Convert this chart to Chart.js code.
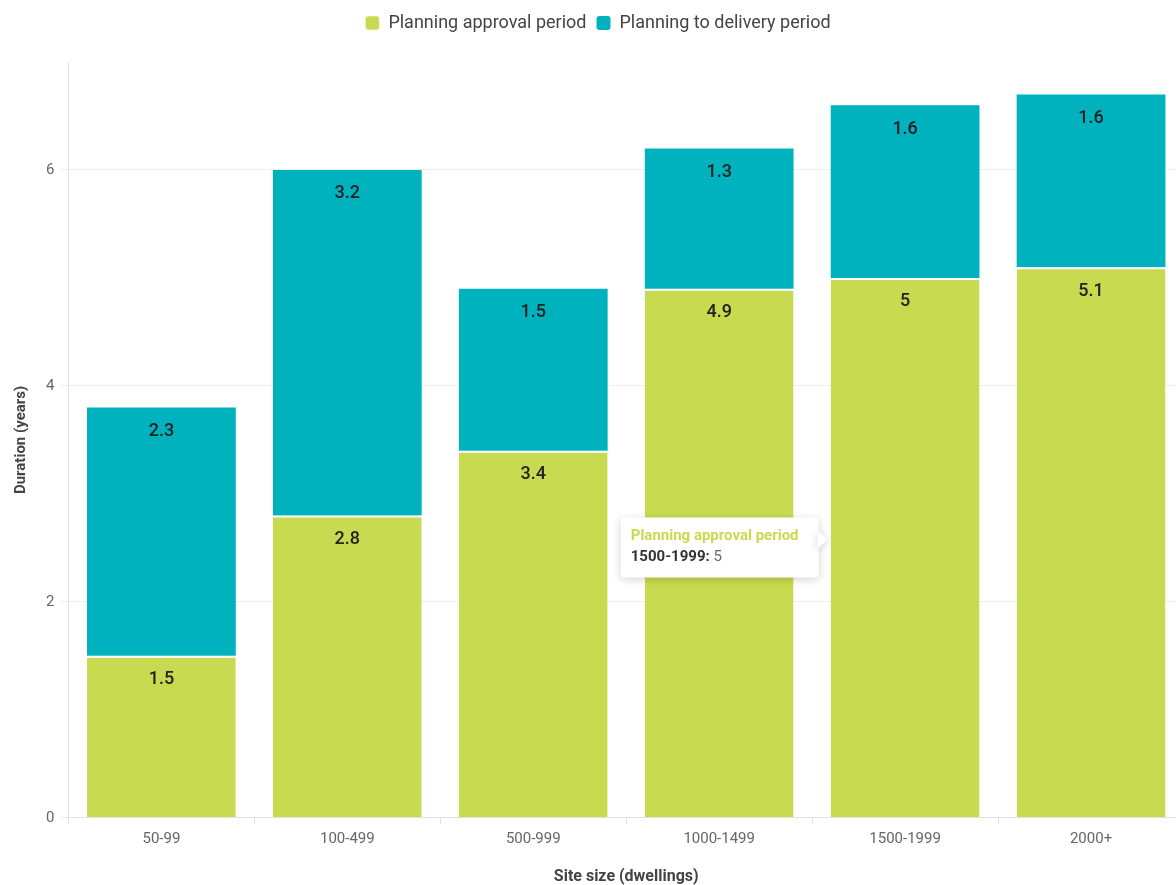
<!DOCTYPE html>
<html lang="en">
<head>
  <meta charset="UTF-8" />
  <title>Site size vs duration</title>
  <script src="https://cdn.jsdelivr.net/npm/chart.js"></script>
  <style>
    html, body { margin: 0; padding: 0; background: #fff; overflow: hidden; }
    .wrap { width: 1184px; height: 887px; position: relative; }
  </style>
</head>
<body>
<div class="wrap"><canvas id="chart"></canvas></div>
<script>
  const siteSizes = ["50-99", "100-499", "500-999", "1000-1499", "1500-1999", "2000+"];
  const approvalPeriod = [1.5, 2.8, 3.4, 4.9, 5, 5.1];
  const deliveryPeriod = [2.3, 3.2, 1.5, 1.3, 1.6, 1.6];
  const yTicks = [0, 2, 4, 6];

  const GREEN = "#c8db50";
  const TEAL = "#00b2be";

  // extra room under the legend
  const legendGap = {
    id: "legendGap",
    beforeInit(chart) {
      const fit = chart.legend.fit;
      chart.legend.fit = function () {
        fit.bind(chart.legend)();
        this.height += 20;
      };
    }
  };

  // labels drawn near the top of every segment
  const segmentLabels = {
    id: "segmentLabels",
    afterDatasetsDraw(chart) {
      const ctx = chart.ctx;
      ctx.save();
      ctx.font = "500 18px Roboto";
      ctx.fillStyle = "#222";
      ctx.textAlign = "center";
      ctx.textBaseline = "middle";
      chart.data.datasets.forEach((ds, i) => {
        chart.getDatasetMeta(i).data.forEach((bar, j) => {
          ctx.fillText(String(ds.data[j]), bar.x, bar.y + 24);
        });
      });
      ctx.restore();
    }
  };

  // static tooltip on 1500-1999 approval bar
  const pinnedTip = {
    id: "pinnedTip",
    afterDraw(chart) {
      const ctx = chart.ctx;
      const idx = 4;
      const bar = chart.getDatasetMeta(0).data[idx];
      const midY = (bar.y + bar.base) / 2;
      const tipX = bar.x - bar.width / 2 - 3;
      const tipY = midY - 8;
      const w = 198, h = 60, caret = 9;
      const bx = tipX - caret - w, by = midY - 30;
      ctx.save();
      ctx.shadowColor = "rgba(0,0,0,0.18)";
      ctx.shadowBlur = 8;
      ctx.shadowOffsetY = 2;
      ctx.fillStyle = "#fff";
      ctx.beginPath();
      ctx.roundRect(bx, by, w, h, 4);
      ctx.fill();
      ctx.beginPath();
      ctx.moveTo(bx + w - 1, tipY - caret);
      ctx.lineTo(tipX, tipY);
      ctx.lineTo(bx + w - 1, tipY + caret);
      ctx.closePath();
      ctx.fill();
      ctx.shadowColor = "transparent";
      ctx.textBaseline = "middle";
      ctx.textAlign = "left";
      ctx.font = "bold 15px Roboto";
      ctx.fillStyle = GREEN;
      ctx.fillText(chart.data.datasets[0].label, bx + 10, by + 19);
      const key = chart.data.labels[idx] + ":";
      ctx.font = "bold 15px Roboto";
      ctx.fillStyle = "#333";
      ctx.fillText(key, bx + 10, by + 40);
      const kw = ctx.measureText(key + " ").width;
      ctx.font = "15px Roboto";
      ctx.fillStyle = "#666";
      ctx.fillText(String(chart.data.datasets[0].data[idx]), bx + 10 + kw, by + 40);
      ctx.restore();
    }
  };

  new Chart(document.getElementById("chart"), {
    type: "bar",
    data: {
      labels: siteSizes,
      datasets: [
        {
          label: "Planning approval period",
          data: approvalPeriod,
          backgroundColor: GREEN,
          borderColor: "#fff",
          borderWidth: { top: 2, left: 0, right: 0, bottom: 0 },
          borderSkipped: false
        },
        {
          label: "Planning to delivery period",
          data: deliveryPeriod,
          backgroundColor: TEAL,
          borderWidth: 0
        }
      ]
    },
    options: {
      responsive: true,
      maintainAspectRatio: false,
      animation: false,
      barPercentage: 1,
      categoryPercentage: 0.8,
      layout: { padding: { left: 12, top: 4, bottom: 0 } },
      plugins: {
        legend: {
          position: "top",
          labels: {
            font: { family: "Roboto", size: 18 },
            color: "#444",
            boxWidth: 14,
            boxHeight: 14,
            useBorderRadius: true,
            borderRadius: 3,
            padding: 10
          }
        },
        tooltip: { enabled: false }
      },
      scales: {
        x: {
          stacked: true,
          grid: { drawOnChartArea: false, tickLength: 6, color: "#e2e2e2" },
          border: { color: "#e2e2e2" },
          ticks: { font: { family: "Roboto", size: 15 }, color: "#666", padding: 6 },
          title: {
            display: true,
            text: "Site size (dwellings)",
            font: { family: "Roboto", size: 16, weight: "bold" },
            color: "#444",
            padding: { top: 14, bottom: 0 }
          }
        },
        y: {
          stacked: true,
          min: 0,
          max: 7,
          afterBuildTicks: axis => { axis.ticks = yTicks.map(v => ({ value: v })); },
          grid: { color: "#eeeeee", tickLength: 8 },
          border: { color: "#e2e2e2" },
          ticks: { font: { family: "Roboto", size: 15 }, color: "#666", padding: 6 },
          title: {
            display: true,
            text: "Duration (years)",
            font: { family: "Roboto", size: 15, weight: "bold" },
            color: "#444",
            padding: { top: 0, bottom: 10 }
          }
        }
      }
    },
    plugins: [legendGap, segmentLabels, pinnedTip]
  });
</script>
</body>
</html>
